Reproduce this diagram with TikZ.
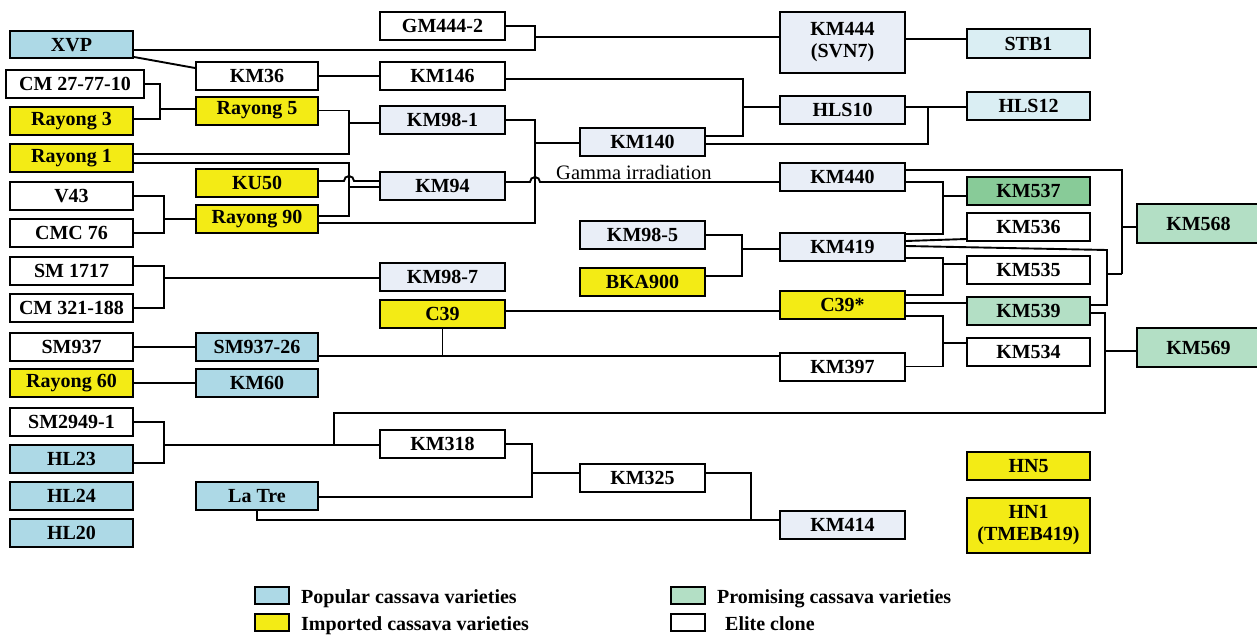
\documentclass[tikz,border=0pt]{standalone}
\usepackage{fontspec}
\setmainfont{Liberation Serif}
\definecolor{pop}{HTML}{ADD9E6}
\definecolor{pale}{HTML}{DAEEF3}
\definecolor{greyb}{HTML}{E9EEF7}
\definecolor{yel}{HTML}{F3EB15}
\definecolor{dgreen}{HTML}{88CB98}
\definecolor{pgreen}{HTML}{B3DFC5}
\begin{document}
\begin{tikzpicture}[x=1pt,y=-1pt,
  box/.style={draw, line width=2pt, inner sep=0pt, minimum width=123pt, minimum height=28pt,
    font=\fontsize{20}{22}\selectfont\bfseries, align=center, fill=white},
  wC/.style={minimum width=125pt},
  wB/.style={minimum width=122pt},
  ln/.style={line width=1.9pt},
  legbox/.style={draw, line width=2pt, minimum width=34pt, minimum height=17pt, inner sep=0pt},
  legtxt/.style={anchor=base west, inner sep=0pt, font=\fontsize{20}{22}\selectfont\bfseries}]
\useasboundingbox (0,0) rectangle (1257,634);
% column A
\node[box, fill=pop, minimum height=27pt] (xvp) at (71.5,45) {XVP};
\node[box, minimum width=138pt] (cm27) at (75,84) {CM 27-77-10};
\node[box, fill=yel] (ray3) at (71.5,121) {Rayong 3};
\node[box, fill=yel] (ray1) at (71.5,158) {Rayong 1};
\node[box] (v43) at (71.5,196) {V43};
\node[box] (cmc76) at (71.5,233) {CMC 76};
\node[box] (sm1717) at (71.5,271) {SM 1717};
\node[box] (cm321) at (71.5,308) {CM 321-188};
\node[box] (sm937) at (71.5,347) {SM937};
\node[box, fill=yel] (ray60) at (71.5,383) {Rayong 60};
\node[box] (sm2949) at (71.5,422) {SM2949-1};
\node[box, fill=pop] (hl23) at (71.5,459) {HL23};
\node[box, fill=pop] (hl24) at (71.5,496) {HL24};
\node[box, fill=pop] (hl20) at (71.5,533) {HL20};
% column B
\node[box, wB] (km36) at (257,76) {KM36};
\node[box, wB, fill=yel] (ray5) at (257,110.5) {Rayong 5};
\node[box, wB, fill=yel] (ku50) at (257,182.5) {KU50};
\node[box, wB, fill=yel] (ray90) at (257,219) {Rayong 90};
\node[box, wB, fill=pop] (sm93726) at (257,347) {SM937-26};
\node[box, wB, fill=pop] (km60) at (257,383) {KM60};
\node[box, wB, fill=pop] (latre) at (257,496) {La Tre};
% column C
\node[box, wC] (gm4442) at (442.5,26) {GM444-2};
\node[box, wC] (km146) at (442.5,76) {KM146};
\node[box, wC, fill=greyb] (km981) at (442.5,120) {KM98-1};
\node[box, wC, fill=greyb] (km94) at (442.5,186) {KM94};
\node[box, wC, fill=greyb] (km987) at (442.5,277) {KM98-7};
\node[box, wC, fill=yel] (c39) at (442.5,313.5) {C39};
\node[box, wC] (km318) at (442.5,444) {KM318};
% column D
\node[box, wC, fill=greyb] (km140) at (642.5,142) {KM140};
\node[box, wC, fill=greyb] (km985) at (642.5,235) {KM98-5};
\node[box, wC, fill=yel] (bka900) at (642.5,282) {BKA900};
\node[box, wC] (km325) at (642.5,478) {KM325};
% column E
\node[box, wC, fill=greyb, minimum height=61pt] (km444) at (842.5,42.5) {KM444\\(SVN7)};
\node[box, wC, fill=greyb] (hls10) at (842.5,110) {HLS10};
\node[box, wC, fill=greyb] (km440) at (842.5,177) {KM440};
\node[box, wC, fill=greyb] (km419) at (842.5,247) {KM419};
\node[box, wC, fill=yel] (c39s) at (842.5,304.5) {C39*};
\node[box, wC] (km397) at (842.5,366.5) {KM397};
\node[box, wC, fill=greyb] (km414) at (842.5,524.5) {KM414};
% column F
\node[box, fill=pale, minimum height=29pt] (stb1) at (1028.5,43.5) {STB1};
\node[box, fill=pale] (hls12) at (1028.5,106) {HLS12};
\node[box, fill=dgreen] (km537) at (1028.5,191) {KM537};
\node[box] (km536) at (1028.5,227) {KM536};
\node[box] (km535) at (1028.5,270) {KM535};
\node[box, fill=pgreen] (km539) at (1028.5,311) {KM539};
\node[box] (km534) at (1028.5,352) {KM534};
\node[box, fill=yel] (hn5) at (1028.5,466) {HN5};
\node[box, fill=yel, minimum height=55pt] (hn1) at (1028.5,525.5) {HN1\\(TMEB419)};
% column G
\node[box, fill=pgreen, minimum height=39pt] (km568) at (1198.5,223.5) {KM568};
\node[box, fill=pgreen, minimum height=39pt] (km569) at (1198.5,347.5) {KM569};

% junction coordinates
\coordinate (jA) at (535,37);
\coordinate (jB) at (160,109);
\coordinate (jC) at (349,123);
\coordinate (jD) at (349,187);
\coordinate (hop1) at (349,181);
\coordinate (jE) at (535,143);
\coordinate (hop2) at (535,182);
\coordinate (jF) at (743,107);
\coordinate (jG) at (928,107);
\coordinate (k1) at (1107,250);
\coordinate (k2) at (1107,274);
\coordinate (k3) at (1122,227);
\coordinate (k4) at (943,196);
\coordinate (k5) at (943,264);
\coordinate (k6) at (943,343);
\coordinate (k7) at (1105,351);
\coordinate (k8) at (1105,413);
\coordinate (k9) at (334,413);
\coordinate (k10) at (334,445);
\coordinate (k11) at (164,445);
\coordinate (k12) at (532,473);
\coordinate (k13) at (751,520);
\coordinate (k14) at (164,278);
\coordinate (k15) at (442.5,356);
\coordinate (k16) at (742,249);
\coordinate (k17) at (164,219);

% connectors
\draw[ln] (gm4442.east) -| (jA);
\draw[ln] ([yshift=-5pt]xvp.east) -| (jA);
\draw[ln] (jA) -- (jA -| km444.west);
\draw[ln] ([yshift=-12pt]xvp.east) -- ([yshift=8pt]km36.west);
\draw[ln] (km36.east) -- (km146.west);
\draw[ln] (cm27.east) -| (jB);
\draw[ln] ([yshift=2pt]ray3.east) -| (jB);
\draw[ln] (jB) -- (jB -| ray5.west);
\draw[ln] (ray5.east) -| (jC);
\draw[ln] ([yshift=4pt]ray1.east) -| (jC);
\draw[ln] (jC) -- (jC -| km981.west);
\draw[ln] ([yshift=-5pt]ray1.east) -| (jD);
\draw[ln] ([yshift=3pt]ray90.east) -| (jD);
\draw[ln] (jD) -- (jD -| km94.west);
\draw[ln] (ku50.east |- hop1) -- ([xshift=-5pt]hop1) arc[start angle=180, end angle=0, radius=5pt] -- (hop1 -| km94.west);
\draw[ln] (v43.east) -| (k17);
\draw[ln] (cmc76.east) -| (k17);
\draw[ln] (k17) -- (ray90.west);
\draw[ln] (km981.east) -| (jE);
\draw[ln] ([yshift=-4pt]ray90.east) -| (jE);
\draw[ln] (jE) -- (jE -| km140.west);
\draw[ln] (km94.east |- hop2) -- ([xshift=-5pt]hop2) arc[start angle=180, end angle=0, radius=5pt] -- (hop2 -| km440.west);
\node[anchor=base west, inner sep=0pt, font=\fontsize{20.5}{22}\selectfont] (gamma) at (556,179) {Gamma irradiation};
\draw[ln] ([yshift=-3pt]km146.east) -| (jF);
\draw[ln] ([yshift=6pt]km140.east) -| (jF);
\draw[ln] (jF) -- (jF -| hls10.west);
\draw[ln] (hls10.east |- jG) -- (hls12.west |- jG);
\draw[ln] ([yshift=-2pt]km140.east) -| (jG);
\draw[ln] ([yshift=3.5pt]km444.east) -- ([yshift=4.5pt]stb1.west);
% right cluster
\draw[ln] ([yshift=1pt]km419.east) -- (k1) |- ([yshift=6pt]km539.east);
\draw[ln] (k2) -- (k2 -| k3);
\draw[ln] ([yshift=7pt]km440.east) -| (k3 |- k2);
\draw[ln] (k3) -- (k3 -| km568.west);
\draw[ln] ([yshift=-5pt]km440.east) -| (k4);
\draw[ln] ([yshift=13pt]km419.east) -| (k4);
\draw[ln] (k4) -- (k4 -| km537.west);
\draw[ln] ([yshift=6pt]km419.east) -- ([yshift=-12pt]km536.west);
\draw[ln] ([yshift=-11pt]km419.east) -| (k5);
\draw[ln] ([yshift=9.5pt]c39s.east) -| (k5);
\draw[ln] (k5) -- (k5 -| km535.west);
\draw[ln] ([yshift=1.5pt]c39s.east) -- ([yshift=8pt]km539.west);
\draw[ln] ([yshift=-11.5pt]c39s.east) -| (k6);
\draw[ln] (km397.east) -| (k6);
\draw[ln] (k6) -- (k6 -| km534.west);
\draw[ln] ([yshift=-2pt]km539.east) -| (k8) -- (k9) -- (k10);
\draw[ln] (k7) -- (k7 -| km569.west);
% lower left
\draw[ln] (sm2949.east) -| (k11);
\draw[ln] ([yshift=-4pt]hl23.east) -| (k11);
\draw[ln] (k11) -- (k11 -| km318.west);
\draw[ln] (km318.east) -| (k12);
\draw[ln] ([yshift=-1pt]latre.east) -| (k12);
\draw[ln] (k12) -- (k12 -| km325.west);
\draw[ln] ([yshift=5pt]km325.east) -| (k13);
\draw[ln] (latre.south) |- (k13 -| km414.west);
\draw[ln] ([yshift=5pt]sm1717.east) -| (k14);
\draw[ln] (cm321.east) -| (k14);
\draw[ln] (k14) -- (k14 -| km987.west);
\draw[ln] (sm937.east) -- (sm93726.west);
\draw[ln] (ray60.east) -- (km60.west);
\draw[ln] ([yshift=-9pt]sm93726.east) -- (k15 -| km397.west);
\draw[ln] (c39.south) -- (k15);
\draw[ln] ([yshift=2.5pt]c39.east) -- ([yshift=-6.5pt]c39s.west);
\draw[ln] (km985.east) -| (k16);
\draw[ln] ([yshift=6pt]bka900.east) -| (k16);
\draw[ln] (k16) -- (k16 -| km419.west);
% legend
\node[legbox, fill=pop] (l1) at (271.5,595.5) {};
\node[legbox, fill=yel] (l2) at (271.5,622) {};
\node[legbox, fill=pgreen] (l3) at (687.5,595.5) {};
\node[legbox, fill=white] (l4) at (687.5,622) {};
\node[legtxt] (t1) at (301,603) {Popular cassava varieties};
\node[legtxt] (t2) at (301,630) {Imported cassava varieties};
\node[legtxt] (t3) at (717,603) {Promising cassava varieties};
\node[legtxt] (t4) at (725,630) {Elite clone};
\end{tikzpicture}
\end{document}
